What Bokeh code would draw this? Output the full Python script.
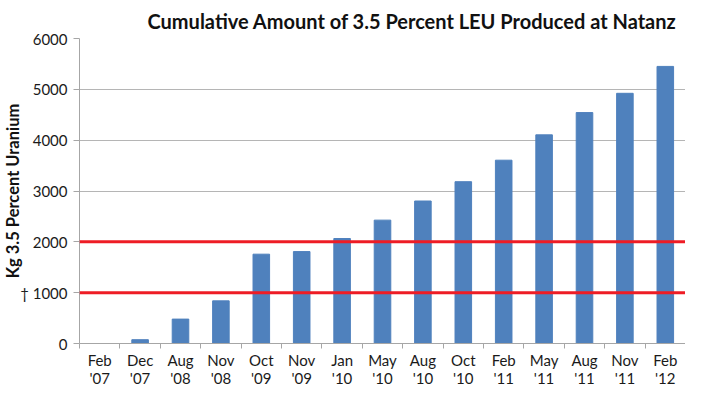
from bokeh.plotting import figure
from bokeh.models import Range1d, FixedTicker, Span
from bokeh.embed import file_html
from bokeh.resources import INLINE

months = ["Feb\n'07", "Dec\n'07", "Aug\n'08", "Nov\n'08", "Oct\n'09", "Nov\n'09",
          "Jan\n'10", "May\n'10", "Aug\n'10", "Oct\n'10", "Feb\n'11", "May\n'11",
          "Aug\n'11", "Nov\n'11", "Feb\n'12"]
leu_kg = [0, 75, 480, 839, 1757, 1808, 2065, 2427, 2803, 3183, 3606, 4105, 4543, 4922, 5451]
y_ticks = [0, 1000, 2000, 3000, 4000, 5000, 6000]
y_tick_labels = {1000: "\u2020 1000"}
red_levels = [1000, 2000]
title_text = "Cumulative Amount of 3.5 Percent LEU Produced at Natanz"
y_title = "Kg 3.5 Percent Uranium"

FONT = "Lato"
n = len(months)
centers = [i + 0.5 for i in range(n)]
bounds = [float(i) for i in range(n + 1)]

p = figure(width=685, height=389, output_backend="svg", toolbar_location=None,
           x_range=Range1d(0, n), y_range=Range1d(0, 6000),
           min_border_left=75, min_border_right=0, min_border_top=38, min_border_bottom=40)
p.outline_line_color = None

p.title.text = title_text
p.title.text_font = FONT
p.title.text_font_style = "bold"
p.title.text_font_size = "20px"
p.title.text_color = "#111111"
p.title.align = "left"
p.title.offset = 68
p.title.standoff = 12

p.vbar(x=centers, top=leu_kg, width=0.41, fill_color="#4F81BD", line_color="#4F81BD")

for lvl in red_levels:
    p.add_layout(Span(location=lvl, dimension="width", line_color="#EE1C25", line_width=3))

# x axis: labels at bar centres, tick marks at category boundaries
p.xaxis.ticker = FixedTicker(ticks=centers, minor_ticks=bounds)
p.xaxis.major_label_overrides = {c: m for c, m in zip(centers, months)}
p.xaxis.major_tick_out = 0
p.xaxis.major_tick_in = 0
p.xaxis.minor_tick_out = 5
p.xaxis.minor_tick_in = 0
p.xaxis.minor_tick_line_color = "#A6A6A6"
p.xaxis.axis_line_color = "#A6A6A6"
p.xaxis.major_label_text_font = FONT
p.xaxis.major_label_text_font_size = "15px"
p.xaxis.major_label_text_line_height = 1.0
p.xaxis.major_label_text_color = "#1a1a1a"
p.xaxis.major_label_standoff = 2

p.yaxis.ticker = FixedTicker(ticks=y_ticks)
p.yaxis.major_label_overrides = y_tick_labels
p.yaxis.major_tick_out = 6
p.yaxis.major_tick_in = 0
p.yaxis.minor_tick_line_color = None
p.yaxis.major_tick_line_color = "#A6A6A6"
p.yaxis.axis_line_color = "#A6A6A6"
p.yaxis.major_label_text_font = FONT
p.yaxis.major_label_text_font_size = "15px"
p.yaxis.major_label_text_color = "#1a1a1a"
p.yaxis.major_label_standoff = 6
p.yaxis.axis_label = y_title
p.yaxis.axis_label_text_font = FONT
p.yaxis.axis_label_text_font_style = "bold"
p.yaxis.axis_label_text_font_size = "16.5px"
p.yaxis.axis_label_text_color = "#111111"
p.yaxis.axis_label_standoff = -6

p.xgrid.grid_line_color = None
p.ygrid.grid_line_color = "#B5B5B5"
p.ygrid.grid_line_width = 1

open("out.html", "w").write(file_html(p, INLINE))
